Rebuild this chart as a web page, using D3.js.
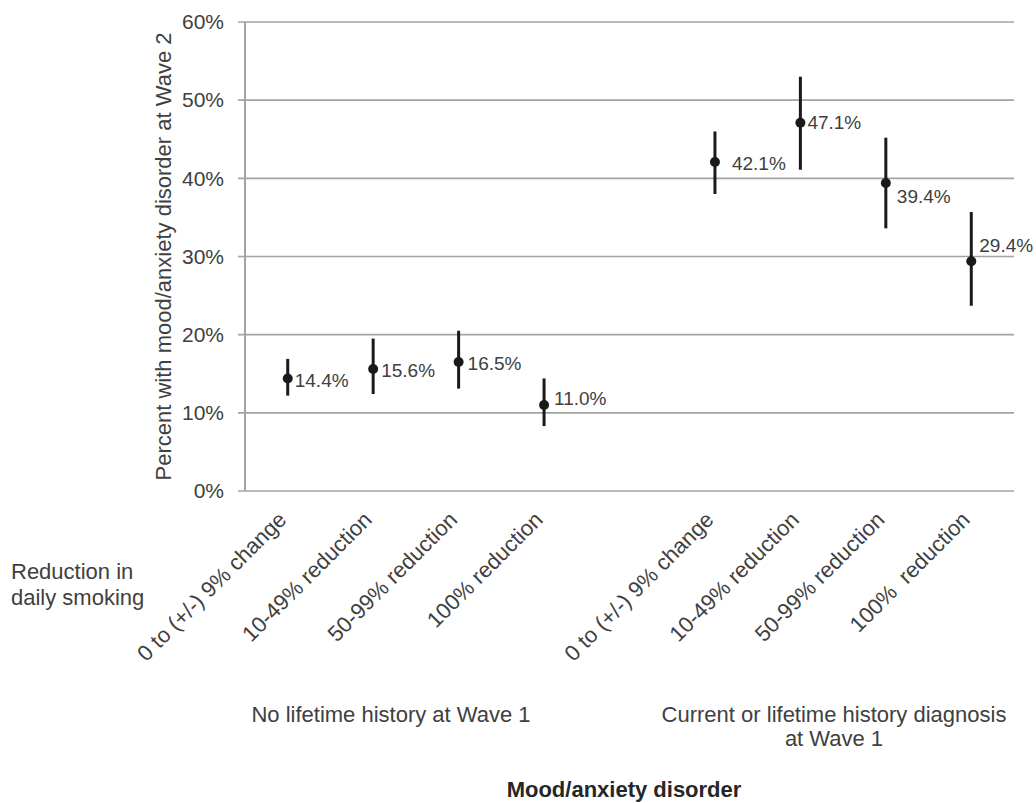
<!DOCTYPE html>
<html>
<head>
<meta charset="utf-8">
<script src="https://cdn.jsdelivr.net/npm/d3@7/dist/d3.min.js"></script>
<style>
  html, body { margin: 0; padding: 0; background: #fff; }
  svg { display: block; }
  text { font-family: "Liberation Sans", Arial, Helvetica, sans-serif; }
</style>
</head>
<body>
<svg id="chart" width="1036" height="803"></svg>
<script>
// ---- data ----
const categories = [
  "0 to (+/-) 9% change", "10-49% reduction", "50-99% reduction", "100% reduction",
  "0 to (+/-) 9% change", "10-49% reduction", "50-99% reduction", "100%  reduction"
];
const groupOf = [0, 0, 0, 0, 1, 1, 1, 1];
const groupNames = [
  ["No lifetime history at Wave 1"],
  ["Current or lifetime history diagnosis", "at Wave 1"]
];
const estimates = [14.4, 15.6, 16.5, 11.0, 42.1, 47.1, 39.4, 29.4];
const lowerCI   = [12.2, 12.4, 13.1, 8.3, 38.0, 41.1, 33.6, 23.7];
const upperCI   = [16.9, 19.5, 20.5, 14.4, 46.0, 53.0, 45.2, 35.7];
const yTicks = [0, 10, 20, 30, 40, 50, 60];
const yTitle = "Percent with mood/anxiety disorder at Wave 2";
const xTitle = "Mood/anxiety disorder";
const rowTitle = ["Reduction in", "daily smoking"];

// ---- layout (not data) ----
const labelNudge = [[7, 2], [8, 1], [9, 1], [10, -7], [17, 1], [7, -1], [11, 13], [8, -16]];
const plot = { left: 245, right: 1014, top: 22, bottom: 491 };
const textColor = "#404040";
const gridColor = "#a3a3a3";

const svg = d3.select("#chart");

// slot keys: 4 categories, a gap, 4 categories
const keys = [];
categories.forEach((c, i) => {
  if (i === 4) keys.push("gap");
  keys.push("c" + i);
});

const x = d3.scaleBand().domain(keys).range([plot.left, plot.right]).padding(0);
const y = d3.scaleLinear().domain([0, 60]).range([plot.bottom, plot.top]);
const cx = i => x("c" + i) + x.bandwidth() / 2;

// gridlines
svg.append("g").selectAll("line").data(yTicks).join("line")
  .attr("x1", plot.left - 7).attr("x2", plot.right)
  .attr("y1", d => y(d)).attr("y2", d => y(d))
  .attr("stroke", gridColor).attr("stroke-width", 1.6);

// y axis line
svg.append("line")
  .attr("x1", plot.left).attr("x2", plot.left)
  .attr("y1", y(60)).attr("y2", y(0))
  .attr("stroke", gridColor).attr("stroke-width", 2);

// y tick labels
const yAxis = d3.axisLeft(y).tickValues(yTicks).tickSize(0).tickPadding(21)
  .tickFormat(d => d + "%");
const ya = svg.append("g").attr("transform", `translate(${plot.left},0)`).call(yAxis);
ya.select(".domain").remove();
ya.selectAll("text")
  .attr("fill", textColor).style("font-size", "21px")
  .style("font-family", '"Liberation Sans", Arial, sans-serif');

// y title
svg.append("text")
  .attr("transform", `translate(171, ${(plot.top + plot.bottom) / 2}) rotate(-90)`)
  .attr("text-anchor", "middle")
  .attr("fill", textColor).style("font-size", "22px")
  .text(yTitle);

// error bars
const idx = d3.range(estimates.length);
svg.append("g").selectAll("line").data(idx).join("line")
  .attr("x1", i => cx(i)).attr("x2", i => cx(i))
  .attr("y1", i => y(upperCI[i])).attr("y2", i => y(lowerCI[i]))
  .attr("stroke", "#1a1a1a").attr("stroke-width", 3);

// points
svg.append("g").selectAll("circle").data(idx).join("circle")
  .attr("cx", i => cx(i)).attr("cy", i => y(estimates[i]))
  .attr("r", 5).attr("fill", "#1a1a1a");

// value labels
svg.append("g").selectAll("text").data(idx).join("text")
  .attr("x", i => cx(i) + labelNudge[i][0])
  .attr("y", i => y(estimates[i]) + labelNudge[i][1])
  .attr("dy", "0.36em")
  .attr("fill", textColor).style("font-size", "19px")
  .text(i => estimates[i].toFixed(1) + "%");

// rotated category labels
svg.append("g").selectAll("text").data(idx).join("text")
  .attr("transform", i => `translate(${cx(i) + 0}, 521) rotate(-45)`)
  .attr("text-anchor", "end")
  .attr("fill", textColor).style("font-size", "22px")
  .style("white-space", "pre")
  .text(i => categories[i]);

// row title
svg.append("text")
  .attr("x", 11).attr("y", 579)
  .attr("fill", textColor).style("font-size", "22px")
  .selectAll("tspan").data(rowTitle).join("tspan")
  .attr("x", 11).attr("dy", (d, i) => i === 0 ? 0 : 26)
  .text(d => d);

// group labels
const groupCenters = [391, 834];
groupNames.forEach((lines, g) => {
  svg.append("text")
    .attr("y", 722)
    .attr("text-anchor", "middle")
    .attr("fill", textColor).style("font-size", "22px")
    .selectAll("tspan").data(lines).join("tspan")
    .attr("x", groupCenters[g]).attr("dy", (d, i) => i === 0 ? 0 : 24)
    .text(d => d);
});

// x title
svg.append("text")
  .attr("x", 624).attr("y", 797)
  .attr("text-anchor", "middle")
  .attr("fill", "#262626").style("font-size", "22px").style("font-weight", "bold")
  .text(xTitle);
</script>
</body>
</html>
